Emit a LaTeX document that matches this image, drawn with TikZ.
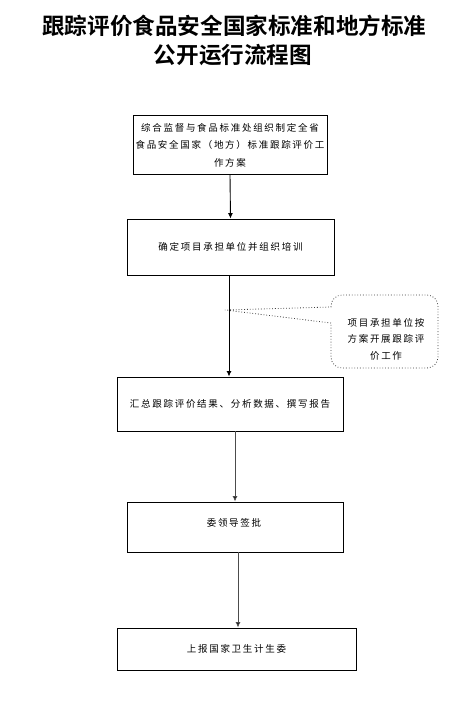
\documentclass[tikz,border=0pt]{standalone}
\usepackage{fontspec}
\setmainfont{Noto Sans CJK SC}[BoldFont={Noto Sans CJK SC Bold}]
\usetikzlibrary{arrows.meta}
\newfontfamily\bodyfont{Noto Sans CJK SC}[LetterSpace=18]
\begin{document}
\begin{tikzpicture}[x=1pt,y=-1pt,
  box/.style={draw=black, line width=0.9pt, fill=white, inner sep=0pt, align=center,
    font=\bodyfont\fontsize{9.5}{17.5}\selectfont},
  plain/.style={inner sep=0pt, align=center, font=\bodyfont\fontsize{9.5}{16.5}\selectfont},
  arr/.style={line width=0.9pt, -{Latex[length=5.5pt,width=5pt]}},
  garr/.style={arr, draw=black!70, -{Latex[length=5.5pt,width=5pt,fill=black]}},
  ttl/.style={inner sep=0pt, font=\bfseries\fontsize{22.6}{28}\selectfont}]
\path[use as bounding box, fill=white] (0,0) rectangle (471,716);

\node[ttl] (t1) at (234.5,26) {跟踪评价食品安全国家标准和地方标准};
\node[ttl] (t2) at (233,55) {公开运行流程图};

\node[box, minimum width=194, minimum height=59] (b1) at (230,145)
  {综合监督与食品标准处组织制定全省\\食品安全国家（地方）标准跟踪评价工\\作方案};
\node[box, minimum width=207, minimum height=56] (b2) at (230.5,247)
  {确定项目承担单位并组织培训};
\node[box, minimum width=226, minimum height=54] (b3) at (230,404)
  {汇总跟踪评价结果、分析数据、撰写报告};
\node[box, minimum width=216, minimum height=50] (b4) at (235,527) {};
\node[plain] (b4t) at (234,523) {委领导签批};
\node[box, minimum width=239, minimum height=42] (b5) at (236.5,649)
  {上报国家卫生计生委};

% callout
\coordinate (tip) at (225,310);
\draw[black!75, dotted, line width=0.8pt]
  (331,323) -- (tip) -- (331,307)
  [rounded corners=11] -- (331,295) -- (438,295) -- (438,368) -- (331,368) -- (331,323);
\node[plain] (ct) at (386,339) {项目承担单位按\\方案开展跟踪评\\价工作};

\draw[arr] (b1.south) -- (b2.north);
\draw[arr] (b2.south -| 229,0) -- (b3.north -| 229,0);
\draw[garr] (b3.south -| b4.north) -- (b4.north);
\draw[garr] (b4.south -| 238,0) -- (b5.north -| 238,0);
\end{tikzpicture}
\end{document}
